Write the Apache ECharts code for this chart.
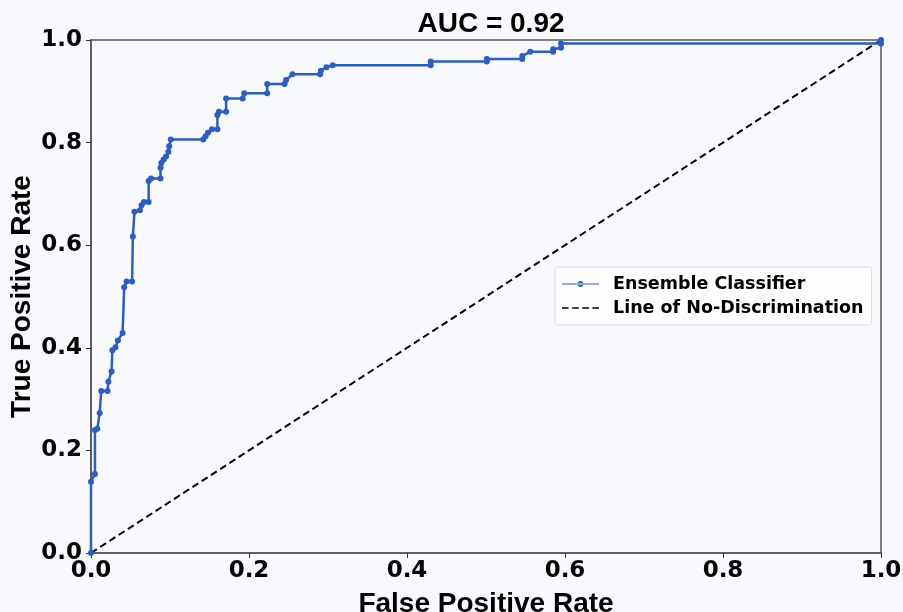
<!DOCTYPE html>
<html>
<head>
<meta charset="utf-8">
<script src="https://cdn.jsdelivr.net/npm/echarts@6/dist/echarts.min.js"></script>
<style>
  html, body { margin: 0; padding: 0; background: #f8f9fd; }
  #chart { width: 903px; height: 612px; }
</style>
</head>
<body>
<div id="chart"></div>
<script>
// ROC curve points
const fpr = [0, 0, 0.005, 0.005, 0.008, 0.011, 0.013, 0.021, 0.022, 0.026, 0.027, 0.031, 0.034, 0.040,
  0.042, 0.045, 0.052, 0.053, 0.055, 0.062, 0.064, 0.067, 0.073, 0.073, 0.076, 0.088, 0.088, 0.089,
  0.092, 0.095, 0.098, 0.099, 0.101, 0.142, 0.145, 0.148, 0.153, 0.160, 0.160, 0.162, 0.171, 0.171,
  0.192, 0.194, 0.223, 0.223, 0.245, 0.247, 0.255, 0.290, 0.291, 0.298, 0.306, 0.430, 0.430, 0.501,
  0.501, 0.546, 0.546, 0.556, 0.585, 0.585, 0.595, 0.595, 1.0, 1.0];
const tpr = [0, 0.139, 0.154, 0.240, 0.242, 0.273, 0.316, 0.316, 0.334, 0.354, 0.395, 0.401, 0.414, 0.429,
  0.518, 0.529, 0.529, 0.617, 0.665, 0.668, 0.678, 0.684, 0.684, 0.725, 0.730, 0.730, 0.751, 0.760,
  0.767, 0.773, 0.782, 0.793, 0.806, 0.806, 0.8125, 0.819, 0.826, 0.826, 0.854, 0.860, 0.860, 0.886,
  0.886, 0.896, 0.896, 0.914, 0.914, 0.922, 0.933, 0.933, 0.940, 0.947, 0.951, 0.951, 0.958, 0.958,
  0.963, 0.963, 0.969, 0.977, 0.977, 0.982, 0.985, 0.993, 0.993, 1.0];
const diagX = [0, 1];
const diagY = [0, 1];
const aucText = "AUC = 0.92";

const chart = echarts.init(document.getElementById("chart"));

const tickFont = { fontFamily: "DejaVu Sans", fontWeight: "bold", fontSize: 23, color: "#000" };
const nameFont = { fontFamily: "Liberation Sans", fontWeight: "bold", fontSize: 28, color: "#000" };

const options = {
    backgroundColor: "#f8f9fd",
    animation: false,
    title: {
        text: aucText,
        left: 486,
        top: 5,
        textAlign: "center",
        textStyle: nameFont,
    },
    grid: {
        left: 91,
        right: 22,
        top: 40,
        bottom: 59,
        outerBoundsMode: "none",
        show: true,
        borderColor: "#555",
        borderWidth: 1.5,
        backgroundColor: "#f8f9fd",
    },
    legend: {
        orient: "vertical",
        left: 555,
        top: 267,
        padding: [8, 8, 8, 7],
        itemGap: 6,
        itemWidth: 37,
        itemHeight: 10,
        backgroundColor: "#fdfdfe",
        borderColor: "#ddd",
        borderWidth: 1,
        borderRadius: 3,
        textStyle: { fontFamily: "DejaVu Sans", fontWeight: "bold", fontSize: 17.5, color: "#000", padding: [0, 0, 0, 9] },
        data: [
            { name: "Ensemble Classifier", icon: "path://M0,4.5H37V5.5H0Z M15.5,5a3,3 0 1,0 6,0a3,3 0 1,0 -6,0Z", itemStyle: { color: "#2b5cc8" } },
            { name: "Line of No-Discrimination", icon: "path://M0,4.3H6.5V5.7H0Z M10,4.3H16.5V5.7H10Z M20,4.3H26.5V5.7H20Z M30,4.3H36.5V5.7H30Z", itemStyle: { color: "#000" } },
        ],
    },
    xAxis: {
        type: "value",
        min: 0,
        max: 1,
        interval: 0.2,
        name: "False Positive Rate",
        nameLocation: "middle",
        nameGap: 37,
        nameMoveOverlap: false,
        nameTextStyle: nameFont,
        axisLine: { show: true, lineStyle: { color: "#555", width: 1.5 } },
        axisTick: { show: true, length: 5, lineStyle: { color: "#333" } },
        splitLine: { show: false },
        axisLabel: Object.assign({ margin: 7, formatter: (v) => v.toFixed(1) }, tickFont),
    },
    yAxis: {
        type: "value",
        min: 0,
        max: 1,
        interval: 0.2,
        name: "True Positive Rate",
        nameLocation: "middle",
        nameGap: 55,
        nameMoveOverlap: false,
        nameTextStyle: nameFont,
        axisLine: { show: true, lineStyle: { color: "#555", width: 1.5 } },
        axisTick: { show: true, length: 5, lineStyle: { color: "#333" } },
        splitLine: { show: false },
        axisLabel: Object.assign({ margin: 9, formatter: (v) => v.toFixed(1) }, tickFont),
    },
    series: [
        {
            name: "Ensemble Classifier",
            type: "line",
            data: fpr.map((x, i) => [x, tpr[i]]),
            symbol: "circle",
            symbolSize: 6,
            showSymbol: true,
            lineStyle: { color: "#2b5cc8", width: 2.5 },
            itemStyle: { color: "#2b5cc8" },
            z: 3,
        },
        {
            name: "Line of No-Discrimination",
            type: "line",
            data: diagX.map((x, i) => [x, diagY[i]]),
            symbol: "none",
            lineStyle: { color: "#000", width: 2, type: [7, 4] },
            itemStyle: { color: "#000" },
            z: 2,
        },
    ],
};

chart.setOption(options);
</script>
</body>
</html>
